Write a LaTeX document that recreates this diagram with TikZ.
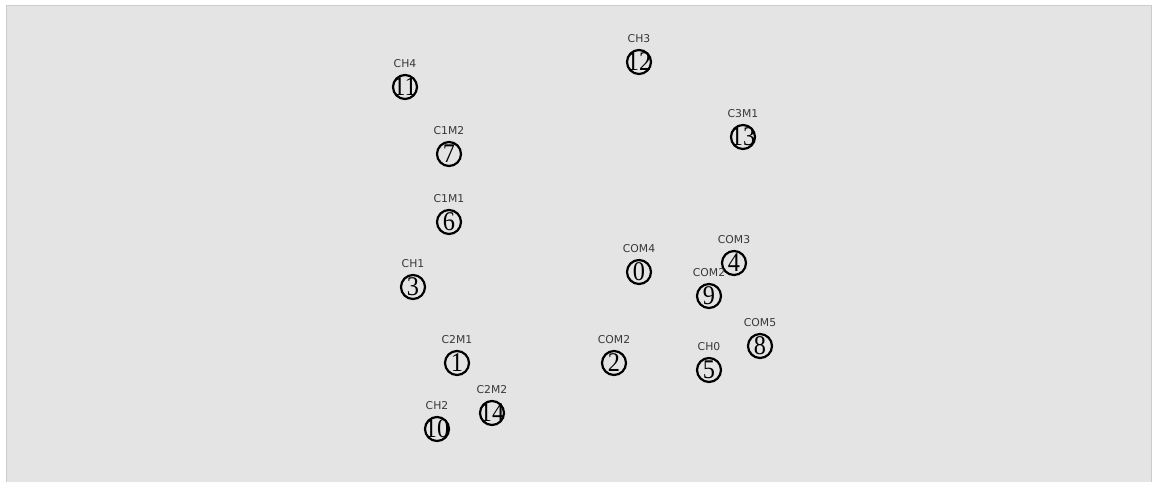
\documentclass[tikz,border=0pt]{standalone}
\usepackage{fontspec}
\setmainfont{Liberation Serif}
\newfontfamily\tagfont{DejaVu Sans}
\newfontfamily\digfont{Liberation Serif}
\definecolor{panel}{HTML}{E4E4E4}
\definecolor{edge}{HTML}{CCCCCC}
\definecolor{tagcol}{HTML}{383838}
\tikzset{
  ring/.style={circle, draw=black, line width=2.2pt, minimum size=24pt, inner sep=0pt},
  digit/.style={inner sep=0pt, xscale=0.9, font=\digfont\fontsize{27}{27}\selectfont, text=black},
  tag/.style={inner sep=0pt, font=\tagfont\fontsize{10.8}{10.8}\selectfont, text=tagcol},
}
\begin{document}
\begin{tikzpicture}[x=1pt, y=-1pt]
\useasboundingbox (0,0) rectangle (1156,482);
\fill[white] (0,0) rectangle (1156,482);
\fill[panel] (6,5) rectangle (1152,482);
\draw[edge, line width=1pt] (6.5,482) -- (6.5,5.5) -- (1151.5,5.5) -- (1151.5,482);
% nodes: name / position / number / tag
\foreach \n/\x/\y/\t in {
  11/405/87/CH4,
  7/449/154/C1M2,
  6/449/222/C1M1,
  3/413/287/CH1,
  1/457/363/C2M1,
  10/437/429/CH2,
  14/492/413/C2M2,
  12/639/62/CH3,
  13/743/137/C3M1,
  0/639/272/COM4,
  4/734/263/COM3,
  9/709/296/COM2,
  2/614/363/COM2,
  5/709/370/CH0,
  8/760/346/COM5}{
  \node[ring] (n\n) at (\x,\y) {};
  \node[digit] (d\n) at (n\n.center) {\n};
  \node[tag] (t\n) at ([yshift=23pt]n\n.center) {\t};
}
\end{tikzpicture}
\end{document}
